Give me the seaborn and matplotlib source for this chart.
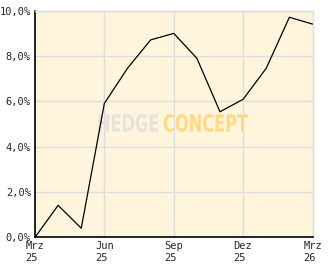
import matplotlib
matplotlib.use("Agg")
import matplotlib.pyplot as plt
import seaborn as sns
import pandas as pd
import numpy as np
from matplotlib.ticker import MultipleLocator, FuncFormatter
from matplotlib.textpath import TextPath
from matplotlib.patches import PathPatch
from matplotlib.font_manager import FontProperties
from matplotlib.transforms import Affine2D

months = ["Mrz 25", "Apr 25", "Mai 25", "Jun 25", "Jul 25", "Aug 25", "Sep 25",
          "Okt 25", "Nov 25", "Dez 25", "Jan 26", "Feb 26", "Mrz 26"]
values = [0.0, 1.41, 0.40, 5.91, 7.46, 8.71, 9.0, 7.90, 5.54, 6.09, 7.46, 9.71, 9.41]
xtick_pos = [0, 3, 6, 9, 12]
xtick_labels = ["Mrz\n25", "Jun\n25", "Sep\n25", "Dez\n25", "Mrz\n26"]

df = pd.DataFrame({"idx": np.arange(len(months)), "value": values})

sns.set_style("white")
plt.rcParams['font.family'] = ['DejaVu Sans Mono', 'DejaVu Sans']

W, H = 332, 269
L, R, T, B = 35, 312.5, 10.7, 237.3
fig = plt.figure(figsize=(W / 100, H / 100), dpi=100)
ax = fig.add_axes([L / W, (H - B) / H, (R - L) / W, (B - T) / H])
ax.set_facecolor("#FFF5DC")

ax.set_xlim(0, 12)
ax.set_ylim(0, 10)
ax.yaxis.set_major_locator(MultipleLocator(2))
ax.yaxis.set_minor_locator(MultipleLocator(1))
ax.set_xticks(xtick_pos)
ax.set_xticklabels(xtick_labels, multialignment="left")
ax.yaxis.set_major_formatter(FuncFormatter(lambda v, p: f"{v:.1f}%".replace(".", ",")))
ax.grid(True, which="major", color="#DDDDDD", linewidth=1)
ax.set_axisbelow(True)

# watermark, fitted to pixel boxes in axes-fraction coordinates
def watermark(text, x0, x1, y0, y1, color):
    fp = FontProperties(family="DejaVu Sans", weight="bold")
    tp = TextPath((0, 0), text, size=10, prop=fp)
    v = tp.vertices
    minx, maxx = v[:, 0].min(), v[:, 0].max()
    miny, maxy = v[:, 1].min(), v[:, 1].max()
    ax0 = (x0 - L) / (R - L)
    ax1 = (x1 - L) / (R - L)
    ay0 = (B - y1) / (B - T)
    ay1 = (B - y0) / (B - T)
    tr = (Affine2D().translate(-minx, -miny)
          .scale((ax1 - ax0) / (maxx - minx), (ay1 - ay0) / (maxy - miny))
          .translate(ax0, ay0))
    patch = PathPatch(tp, transform=tr + ax.transAxes, facecolor=color,
                      edgecolor="none", zorder=1.5)
    ax.add_patch(patch)

watermark("HEDGE", 97, 158, 114, 132, "#E7E3DB")
watermark("CONCEPT", 163, 248, 114, 132, "#FFD987")

sns.lineplot(data=df, x="idx", y="value", ax=ax, color="black", linewidth=0.9, zorder=3)

for s in ["top", "right"]:
    ax.spines[s].set_color("#DDDDDD")
    ax.spines[s].set_linewidth(1)
for s in ["left", "bottom"]:
    ax.spines[s].set_color("black")
    ax.spines[s].set_linewidth(1.2)

ax.tick_params(axis="y", which="both", direction="in", length=4, width=1, color="black",
               labelsize=7.5, pad=3)
ax.tick_params(axis="x", which="major", direction="in", length=4, width=1, color="black",
               labelsize=7.5, pad=3)
ax.set_xlabel("")
ax.set_ylabel("")

fig.savefig("out.png", dpi=100, facecolor="white")
